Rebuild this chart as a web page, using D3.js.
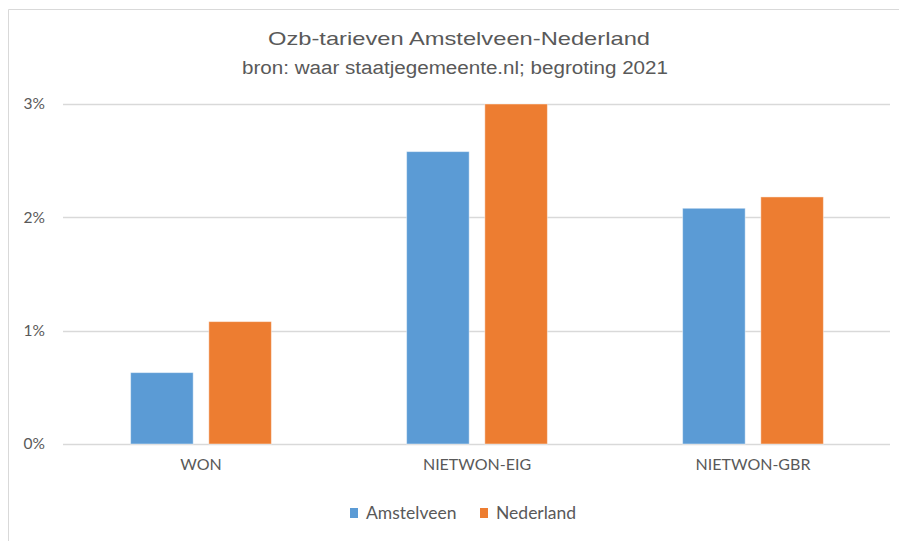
<!DOCTYPE html>
<html>
<head>
<meta charset="utf-8">
<script src="https://cdn.jsdelivr.net/npm/d3@7"></script>
<style>
  html, body { margin: 0; padding: 0; background: #ffffff; }
  svg { display: block; }
</style>
</head>
<body>
<svg id="chart" width="899" height="541"></svg>
<script>
const categories = ["WON", "NIETWON-EIG", "NIETWON-GBR"];
const seriesNames = ["Amstelveen", "Nederland"];
const amstelveen = [0.0063, 0.0258, 0.0208];
const nederland = [0.0108, 0.0300, 0.0218];
const yTicks = [0, 0.01, 0.02, 0.03];
const colors = ["#5B9BD5", "#ED7D31"];

const svg = d3.select("#chart");
const W = 899, H = 541;
const textColor = "#595959";
const tickFont = "Lato, 'Open Sans', sans-serif";

// chart border
svg.append("path")
  .attr("d", `M8.5,${H} L8.5,9.5 L${W},9.5`)
  .attr("fill", "none")
  .attr("stroke", "#d9d9d9")
  .attr("stroke-width", 1);

const x0 = d3.scaleBand().domain(categories).range([63, 891]).paddingInner(0.49).paddingOuter(0.245);
const x1 = d3.scaleBand().domain(seriesNames).range([0, x0.bandwidth()]).paddingInner(0.2);
const y = d3.scaleLinear().domain([0, 0.03]).range([444, 104]);

// gridlines
svg.append("g")
  .selectAll("line")
  .data(yTicks)
  .join("line")
  .attr("x1", 63).attr("x2", 890)
  .attr("y1", d => Math.round(y(d)) + 0.5)
  .attr("y2", d => Math.round(y(d)) + 0.5)
  .attr("stroke", "#d9d9d9")
  .attr("stroke-width", 1.5);

// y axis labels via d3 axis
const yAxis = d3.axisLeft(y).tickValues(yTicks).tickFormat(d3.format(".0%")).tickSize(0).tickPadding(0);
const gy = svg.append("g").attr("transform", "translate(45,0)").call(yAxis);
gy.select(".domain").remove();
gy.selectAll("text")
  .attr("fill", textColor)
  .style("font-family", tickFont)
  .style("font-size", "15.5px");

// bars
const data = categories.map((c, i) => ({ cat: c, values: [amstelveen[i], nederland[i]] }));
const groups = svg.append("g").selectAll("g")
  .data(data)
  .join("g")
  .attr("transform", d => `translate(${x0(d.cat)},0)`);
groups.selectAll("rect")
  .data(d => d.values.map((v, j) => ({ name: seriesNames[j], v, j })))
  .join("rect")
  .attr("x", d => x1(d.name))
  .attr("width", x1.bandwidth())
  .attr("y", d => y(d.v))
  .attr("height", d => y(0) - y(d.v))
  .attr("fill", d => colors[d.j])
  .attr("stroke", "rgba(255,255,255,0.45)")
  .attr("stroke-width", 1);

// x axis labels
const xAxis = d3.axisBottom(x0).tickSize(0).tickPadding(0);
const gx = svg.append("g").attr("transform", "translate(0,459)").call(xAxis);
gx.select(".domain").remove();
gx.selectAll("text")
  .attr("fill", textColor)
  .style("font-family", tickFont)
  .style("font-size", "16px");

// titles
svg.append("text")
  .attr("x", 459).attr("y", 45)
  .attr("text-anchor", "middle")
  .attr("fill", textColor)
  .attr("textLength", 382)
  .attr("lengthAdjust", "spacingAndGlyphs")
  .style("font-family", "'Liberation Sans', Arial, sans-serif")
  .style("font-size", "19px")
  .text("Ozb-tarieven Amstelveen-Nederland");
svg.append("text")
  .attr("x", 455).attr("y", 74)
  .attr("text-anchor", "middle")
  .attr("fill", textColor)
  .attr("textLength", 426)
  .attr("lengthAdjust", "spacingAndGlyphs")
  .style("font-family", "'Liberation Sans', Arial, sans-serif")
  .style("font-size", "18px")
  .text("bron: waar staatjegemeente.nl; begroting 2021");

// legend
const legendX = [350, 480];
const leg = svg.append("g").selectAll("g")
  .data(seriesNames)
  .join("g")
  .attr("transform", (d, i) => `translate(${legendX[i]},508)`);
leg.append("rect").attr("width", 8).attr("height", 10).attr("fill", (d, i) => colors[i]);
leg.append("text")
  .attr("x", 16).attr("y", 10.5)
  .attr("fill", textColor)
  .style("font-family", tickFont)
  .style("font-size", "17.5px")
  .text(d => d);
</script>
</body>
</html>
